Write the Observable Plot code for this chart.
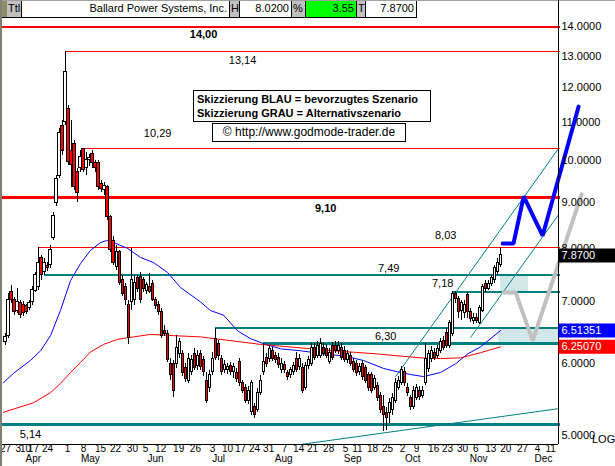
<!DOCTYPE html>
<html><head><meta charset="utf-8">
<script src="https://cdn.jsdelivr.net/npm/d3@7"></script>
<script src="https://cdn.jsdelivr.net/npm/@observablehq/plot@0.6"></script>
<style>
html,body{margin:0;padding:0;background:#fff;}
#wrap{position:relative;width:615px;height:466px;overflow:hidden;font-family:"Liberation Sans",Arial,sans-serif;color:#000;}
#chart{position:absolute;left:0;top:0;}
.hb{position:absolute;top:1px;height:17px;box-sizing:border-box;font-size:11px;line-height:15px;border-bottom:1px solid #000;border-right:1px solid #000;white-space:nowrap;overflow:hidden;}
.g{background:#c0c0c0;padding-left:1px;}
.w{background:#fff;text-align:right;padding-right:2px;}
.box{position:absolute;border:1px solid #000;box-sizing:border-box;background:#fff;white-space:nowrap;}
</style></head>
<body>
<div id="wrap">
<div id="chart"></div>
<div style="position:absolute;left:0;top:0;width:615px;height:1px;background:#a0a0a0"></div>
<div class="hb" style="left:0;width:7px;background:#8c8c68;border-right:none"></div>
<div class="hb g" style="left:7px;width:15px">Ttl</div>
<div class="hb w" style="left:22px;width:208px">Ballard Power Systems, Inc.</div>
<div class="hb g" style="left:230px;width:10px">H</div>
<div class="hb w" style="left:240px;width:52px">8.0200</div>
<div class="hb g" style="left:292px;width:14px">%</div>
<div class="hb w" style="left:306px;width:51px;background:#00ff00">3.55</div>
<div class="hb g" style="left:357px;width:9px">T</div>
<div class="hb w" style="left:366px;width:51px">7.8700</div>
<div style="position:absolute;left:558px;top:0;width:1px;height:18px;background:#000"></div>
<div style="position:absolute;left:0;top:0;width:2px;height:466px;background:#808070"></div>
<div class="box" style="left:193px;top:90px;width:238px;height:32px;font-weight:bold;font-size:11px;line-height:14px;padding:1px 0 0 3px">Skizzierung BLAU = bevorzugtes Szenario<br>Skizzierung GRAU = Alternativszenario</div>
<div class="box" style="left:212px;top:123px;width:194px;height:19px;font-size:12px;line-height:17px;text-align:center">© http://www.godmode-trader.de</div>
<div style="position:absolute;left:592px;top:433px;font-size:11px;line-height:13px">LOG</div>
</div>
<script>
// ---- OHLC, one entry per trading day (index 0 = 27 Mar) ----
const open = [6.32,6.43,7.17,7.03,6.85,6.98,6.94,6.92,6.89,7.00,
 7.20,7.26,7.81,7.54,7.66,7.68,8.23,8.97,9.62,10.89,
 11.00,11.37,10.25,10.43,9.70,9.80,10.29,9.80,10.00,10.17,
 9.93,9.93,9.43,9.29,9.34,8.66,8.17,7.64,7.93,7.39,
 7.26,6.94,7.00,7.03,7.43,7.45,7.39,7.20,7.26,7.33,
 7.03,6.94,6.82,6.51,6.46,5.99,5.99,5.99,6.14,6.14,
 5.92,5.74,5.86,6.14,5.95,6.14,6.04,5.74,5.63,5.86,
 6.38,6.30,6.07,5.89,5.89,5.95,5.86,5.85,6.01,5.70,
 5.64,5.46,5.30,5.37,5.33,5.57,5.86,6.08,6.07,6.19,
 6.11,6.08,5.89,5.97,5.85,5.82,5.86,6.07,5.94,5.92,
 5.63,5.95,5.99,6.24,6.11,6.11,6.24,6.22,6.01,6.27,
 6.27,6.19,6.24,6.19,6.04,6.11,6.01,5.99,5.86,5.99,
 5.92,5.82,5.82,5.64,5.67,5.53,5.37,5.29,5.29,5.33,
 5.46,5.64,5.71,5.86,5.64,5.49,5.37,5.49,5.60,5.53,
 5.71,5.91,6.07,6.16,6.11,6.19,6.35,6.48,6.27,6.46,
 7.15,7.06,6.85,6.80,7.12,6.82,6.68,6.73,6.64,6.85,
 7.33,7.24,7.33,7.39,7.54,7.68];
const high = [6.46,7.15,7.30,7.08,7.24,7.03,7.00,6.96,7.03,7.28,
 7.54,8.03,7.87,7.81,7.73,8.07,8.77,9.62,10.84,11.06,
 13.14,11.49,11.06,10.51,9.80,10.25,10.29,10.20,10.15,10.25,
 10.00,10.00,9.50,9.45,9.38,8.70,8.25,8.07,7.97,7.49,
 7.33,7.03,8.01,7.49,7.49,7.54,7.45,7.35,7.52,7.39,
 7.08,7.00,6.89,6.60,6.51,6.07,6.04,6.43,6.38,6.19,
 5.99,6.14,6.11,6.22,6.19,6.19,6.10,5.86,5.89,6.16,
 6.55,6.35,6.11,6.04,5.99,6.01,5.99,5.92,6.07,5.74,
 5.68,5.66,5.74,5.42,5.63,5.82,6.30,6.14,6.27,6.24,
 6.17,6.14,6.07,6.02,5.89,5.94,6.01,6.16,6.13,6.00,
 6.01,6.10,6.30,6.30,6.33,6.38,6.30,6.29,6.22,6.32,
 6.33,6.33,6.30,6.25,6.19,6.17,6.07,6.04,5.99,6.04,
 5.97,5.86,5.86,5.82,5.71,5.57,5.53,5.36,5.49,5.56,
 5.77,5.80,5.95,5.94,5.70,5.53,5.66,5.68,5.66,5.66,
 6.30,6.19,6.25,6.22,6.27,6.38,6.41,6.54,6.68,7.18,
 7.18,7.10,7.03,7.03,7.17,6.89,6.80,6.80,6.94,7.31,
 7.39,7.39,7.49,7.68,7.81,8.02];
const low = [6.27,6.38,6.98,6.77,6.80,6.71,6.75,6.78,6.85,6.94,
 7.17,7.20,7.39,7.49,7.56,7.62,8.17,8.90,9.55,10.12,
 10.92,9.88,9.34,9.27,9.00,9.70,9.70,9.62,9.85,9.80,
 9.70,9.27,9.22,9.15,8.59,7.93,7.68,7.58,7.30,7.10,
 6.94,6.29,6.85,6.94,7.17,6.98,7.17,7.13,7.15,7.00,
 6.87,6.77,6.38,6.41,6.01,5.74,5.50,5.92,6.07,5.80,
 5.71,5.70,5.82,5.89,5.89,5.89,5.80,5.42,5.57,5.82,
 6.04,6.04,5.82,5.85,5.83,5.82,5.77,5.71,5.66,5.56,
 5.42,5.41,5.26,5.22,5.30,5.53,5.82,5.94,6.01,6.02,
 5.99,5.92,5.85,5.85,5.74,5.77,5.82,5.86,5.89,5.56,
 5.60,5.91,5.95,6.04,6.07,6.07,6.10,6.07,5.98,6.04,
 6.14,6.13,6.04,6.01,5.99,5.95,5.86,5.80,5.82,5.74,
 5.70,5.59,5.56,5.60,5.45,5.29,5.05,5.06,5.15,5.26,
 5.42,5.60,5.67,5.66,5.52,5.33,5.34,5.46,5.46,5.49,
 5.67,5.86,6.01,6.04,6.07,6.14,6.19,6.22,6.22,6.41,
 6.98,6.71,6.68,6.71,6.71,6.64,6.61,6.63,6.61,6.82,
 7.17,7.20,7.28,7.33,7.49,7.64];
const close = [6.41,7.03,7.03,6.82,7.00,6.77,6.80,6.82,6.98,7.22,
 7.49,7.73,7.49,7.73,7.62,7.97,8.70,9.55,10.70,10.25,
 12.48,9.95,9.88,9.34,9.22,10.08,9.75,10.00,10.05,9.93,
 9.80,9.34,9.31,9.38,8.66,7.97,7.73,7.93,7.35,7.15,
 7.03,6.40,7.39,7.35,7.24,7.03,7.24,7.30,7.18,7.03,
 6.92,6.82,6.43,6.46,6.04,5.82,5.60,6.24,6.32,5.85,
 5.77,6.07,6.04,5.92,6.11,5.94,5.86,5.46,5.82,6.07,
 6.08,6.11,5.86,5.97,5.94,5.86,5.94,5.77,5.70,5.60,
 5.46,5.60,5.70,5.27,5.57,5.74,6.01,5.99,6.22,6.07,
 6.04,5.97,5.99,5.89,5.79,5.89,5.95,5.89,6.07,5.60,
 5.95,6.04,6.24,6.08,6.27,6.30,6.14,6.11,6.16,6.08,
 6.19,6.27,6.08,6.04,6.14,5.99,5.89,5.85,5.94,5.79,
 5.74,5.63,5.60,5.77,5.49,5.33,5.27,5.22,5.42,5.50,
 5.71,5.74,5.89,5.70,5.56,5.37,5.60,5.63,5.51,5.60,
 6.07,6.14,6.19,6.08,6.22,6.32,6.24,6.27,6.63,7.15,
 7.06,6.82,6.98,6.94,6.82,6.71,6.73,6.68,6.89,7.26,
 7.24,7.33,7.43,7.62,7.73,7.87];

// ---- moving averages (read at points: day index, price) ----
const blueMaDay = [-0.7,2.7,8.3,11.7,15,18.3,21.7,25,28.3,31.7,33.7,36,40.7,45,49.3,54,58.3,65,68.3,72.7,77.3,81.7,86.7,91.7,98.3,106,112.7,119.3,126,130.7,135,139.3,145,150,154,158.3,165];
const blueMaVal = [5.71,5.85,6.04,6.19,6.43,6.85,7.39,7.71,7.97,8.13,8.17,8.13,8.01,7.83,7.73,7.54,7.26,7.00,6.85,6.77,6.51,6.38,6.29,6.22,6.19,6.14,6.11,6.04,5.92,5.87,5.83,5.80,5.86,5.99,6.14,6.25,6.51351];
const redMaDay = [-0.7,9.3,15,18.3,21.7,25,28.3,32.7,37.3,42.7,48.3,56,65,85,109.3,124,138.3,145,151.7,158.3,165];
const redMaVal = [5.30,5.43,5.57,5.70,5.86,6.01,6.17,6.29,6.37,6.41,6.45,6.43,6.41,6.29,6.19,6.14,6.08,6.07,6.08,6.16,6.2507];

// ---- horizontal levels ----
const levelValues = [14.00,13.14,10.29,9.10,8.03,7.49,7.18,6.55,6.30,5.14];
const levelStart  = [-1,20,26,-1,11,13,149,70,86,-1];
const levelLabels = ["14,00","13,14","10,29","9,10","8,03","7,49","7,18",null,"6,30","5,14"];
const labelDay    = [66,79,50.7,106.7,146.7,127.7,145.7,null,126.7,8.3];

// ---- trend lines (day, price) ----
const trendLines = [
  {name:"base", day:[98.7,184.3], val:[4.89,5.35]},
  {name:"upper", day:[130,184.3], val:[5.80,10.30]},
  {name:"lower", day:[155,184.3], val:[6.40,8.72]}
];
// ---- scenario sketches ----
const blueDay = [165.7,169.3,172.7,179,191];
const blueVal = [8.11,8.11,9.13,8.27,11.45];
const greyDay = [166,170,175.7,192];
const greyVal = [7.17,7.17,6.35,9.18];
// ---- target zones ----
const zones = [{d1:165,d2:174.3,v1:7.49,v2:7.18},{d1:164.3,d2:184.3,v1:6.55,v2:6.30}];

// ---- axes ----
const yTicks = [5,6,7,8,9,10,11,12,13,14];
const weekLabels = ["27","3","10","17","24","1","8","15","22","30","5","12","19","26","3","10","17","24","31","7","14","21","28","5","11","18","25","2","9","16","23","30","6","13","20","27","4","11"];
const weekDay = [0,4.3,6.7,9.3,14,20.7,26,31.7,36.7,42.3,46.7,51.7,57.7,63.3,69,74,78.3,83,87.7,93,97.7,102.3,107.7,113.3,117.3,122.3,127.3,132.3,137,142.7,147.3,152.3,156.7,161.7,166.7,172.3,177.3,181.7];
const monthLabels = ["Apr","May","Jun","Jul","Aug","Sep","Oct","Nov","Dec"];
const monthDay = [9.3,28.3,50,71,92.7,115.7,135.7,157.7,179.3];
// ---- last-value tags ----
const tags = [{v:7.87,t:"7.8700",c:"#000000"},{v:6.51351,t:"6.51351",c:"#0000ff"},{v:6.2507,t:"6.25070",c:"#ff0000"}];

const X0 = -1, X1 = 184.3;
const RED = "#ff0000", TEAL = "#008080";
const candles = open.map((o,i)=>({i, open:o, high:high[i], low:low[i], close:close[i]}));
const levels = levelValues.map((v,k)=>({value:v, start:levelStart[k], label:levelLabels[k], day:labelDay[k]}));
const widthOf = {14:2, 13.14:1, 10.29:1, 9.1:3, 8.03:1, 7.49:1.5, 7.18:1.5, 6.55:2, 6.3:3, 5.14:3};
const labelDy = {14:8, 13.14:9, 10.29:-16, 9.1:11, 8.03:-12, 7.49:-7, 7.18:-8, 6.3:-7, 5.14:10};
const bold = new Set([14, 9.1]);

const chart = Plot.plot({
  width: 615, height: 466,
  marginTop: 17, marginBottom: 22, marginLeft: 2, marginRight: 57,
  x: {domain: [X0, X1], axis: null},
  y: {type: "log", domain: [4.888, 14.33], axis: null},
  style: {fontFamily: "'Liberation Sans', Arial, sans-serif", fontSize: "11px", background: "transparent", overflow: "visible"},
  marks: [
    Plot.rect(zones, {x1:"d1", x2:"d2", y1:"v1", y2:"v2", fill:"#d2e8e8"}),
    ...trendLines.map(t => Plot.line(t.day, {x: t.day, y: t.val, stroke: TEAL, strokeWidth: 1})),
    Plot.ruleY(levels, {y:"value", x1:"start", x2: X1 + 0.7, stroke: d => d.value >= 8 ? RED : TEAL, strokeWidth: d => widthOf[d.value], shapeRendering:"crispEdges"}),
    Plot.line(blueMaDay, {x: blueMaDay, y: blueMaVal, stroke: "#0000ff", strokeWidth: 1}),
    Plot.line(redMaDay, {x: redMaDay, y: redMaVal, stroke: RED, strokeWidth: 1}),
    Plot.ruleX(candles, {x:"i", y1:"low", y2:"high", stroke:"#000", strokeWidth:1, shapeRendering:"crispEdges"}),
    Plot.rect(candles, {x1: d => d.i - 0.34, x2: d => d.i + 0.34, y1:"open", y2:"close",
      fill: d => d.close >= d.open ? "#ffffff" : RED, stroke:"#000", strokeWidth:1, shapeRendering:"crispEdges"}),
    Plot.line(greyDay, {x: greyDay, y: greyVal, stroke:"#c0c0c0", strokeWidth:4, strokeLinejoin:"miter"}),
    Plot.line(blueDay, {x: blueDay, y: blueVal, stroke:"#0000ff", strokeWidth:4, strokeLinejoin:"miter"}),
    ...levels.filter(d => d.label).map(d => Plot.text([d], {x:"day", y:"value", text:"label", dy: labelDy[d.value],
      fontWeight: bold.has(d.value) ? "bold" : "normal", fill:"#000", fontSize: 11})),
    Plot.ruleY([4.888], {x1: X0, x2: X1, stroke:"#000", strokeWidth:1, shapeRendering:"crispEdges"}),
    Plot.ruleX([X1], {stroke:"#000", strokeWidth:1, shapeRendering:"crispEdges"}),
    Plot.axisY(yTicks, {anchor:"right", tickSize:0, tickPadding:3, tickFormat: d => d.toFixed(4), fontSize:11, fill:"#000"}),
    Plot.ruleY(tags, {y:"v", x1: X1 + 0.2, x2: X1 + 20, stroke:"c", strokeWidth:14}),
    Plot.text(tags, {y:"v", x: X1, text:"t", dx:3, textAnchor:"start", fill:"#fff", fontSize:11}),
    Plot.text(weekLabels.map((t,k)=>({t, d:weekDay[k]})), {x:"d", text:"t", frameAnchor:"bottom", dy:7, fill:"#000", fontSize:10}),
    Plot.text(monthLabels.map((t,k)=>({t, d:monthDay[k]})), {x:"d", text:"t", frameAnchor:"bottom", dy:17.5, fill:"#000", fontSize:10})
  ]
});
document.getElementById("chart").appendChild(chart);
</script>
</body></html>
